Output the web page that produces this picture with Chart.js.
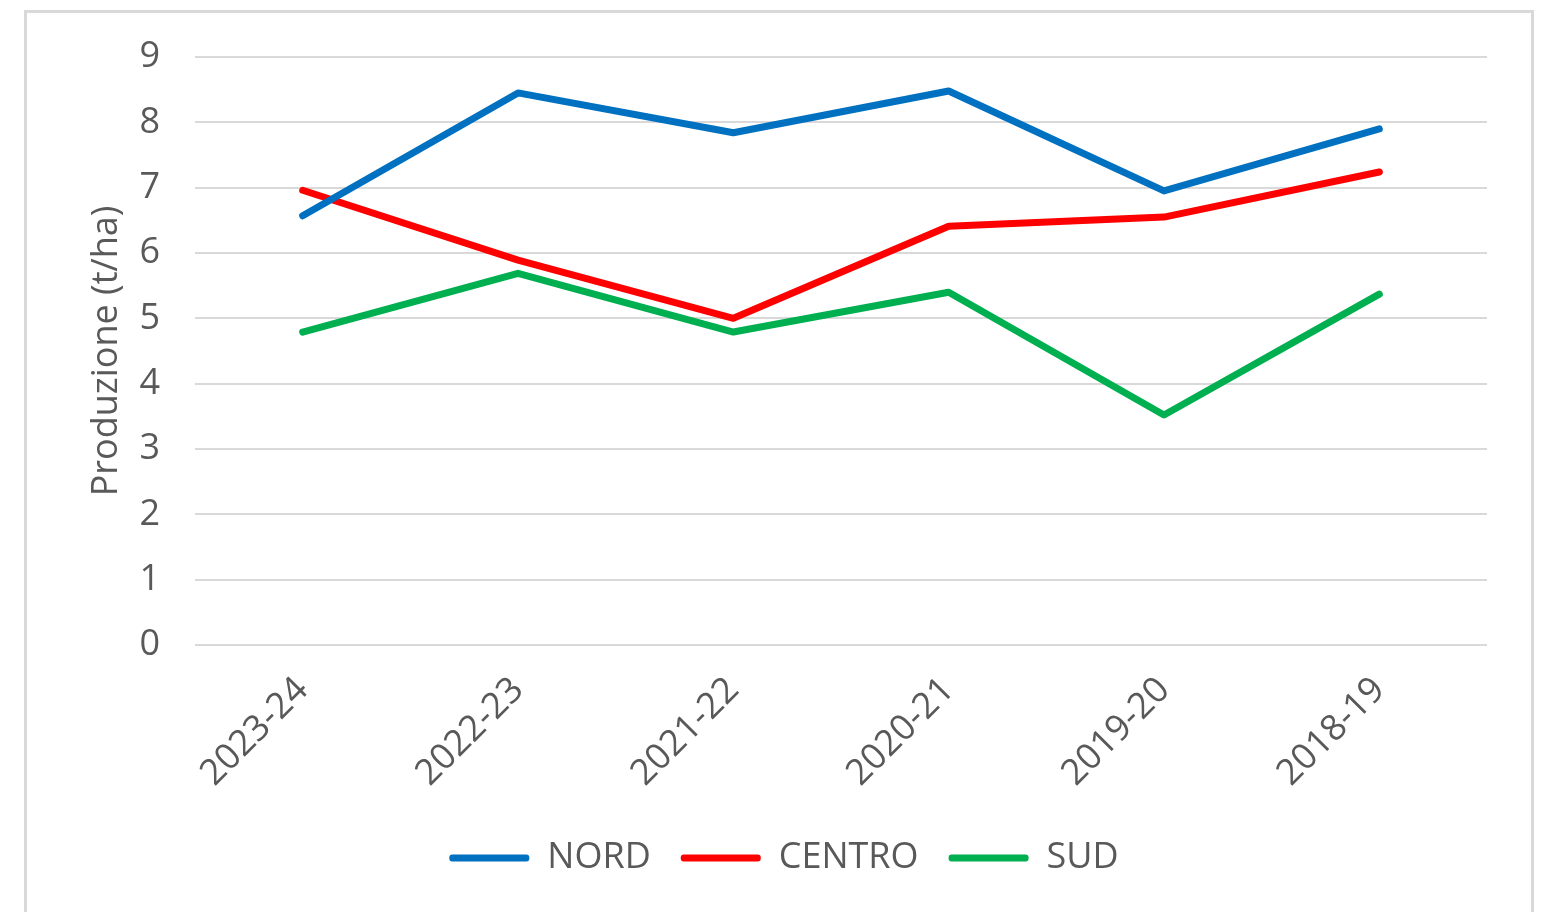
<!DOCTYPE html>
<html>
<head>
<meta charset="utf-8">
<script src="https://cdn.jsdelivr.net/npm/chart.js@4"></script>
<style>
  html, body { margin: 0; padding: 0; background: #fff; overflow: hidden; }
  .box {
    position: absolute;
    left: 24px; top: 10px;
    width: 1504px; height: 899px;
    border: 3px solid #d9d9d9;
  }
</style>
</head>
<body>
<div class="box"><canvas id="myChart"></canvas></div>
<script>
// Produzione (t/ha) per area
var annate = ["2023-24", "2022-23", "2021-22", "2020-21", "2019-20", "2018-19"];
var nord   = [6.57, 8.45, 7.84, 8.48, 6.95, 7.90];
var centro = [6.96, 5.89, 5.00, 6.41, 6.55, 7.24];
var sud    = [4.79, 5.69, 4.79, 5.40, 3.52, 5.37];

var grigio = "#595959";
var font = { family: "'Open Sans', sans-serif", size: 36 };

function serie(nome, valori, colore) {
  return {
    label: nome,
    data: valori,
    borderColor: colore,
    backgroundColor: colore,
    borderWidth: 7,
    borderCapStyle: "round",
    borderJoinStyle: "round",
    pointRadius: 0,
    tension: 0
  };
}

new Chart("myChart", {
  type: "line",
  data: {
    labels: annate,
    datasets: [
      serie("NORD", nord, "#0070c0"),
      serie("CENTRO", centro, "#ff0000"),
      serie("SUD", sud, "#00b050")
    ]
  },
  options: {
    responsive: true,
    maintainAspectRatio: false,
    animation: false,
    layout: { padding: { left: 54, right: 44, top: 44, bottom: 26 } },
    scales: {
      x: {
        offset: true,
        grid: { display: false },
        border: { display: false },
        ticks: { color: grigio, font: font, minRotation: 45, maxRotation: 45, padding: 16 },
        afterFit: function (s) { s.height = 165; }
      },
      y: {
        min: 0,
        max: 9,
        ticks: { stepSize: 1, color: grigio, font: font, padding: 35 },
        grid: { color: "#d9d9d9", lineWidth: 2, drawTicks: false },
        border: { display: false },
        title: { display: true, text: "Produzione (t/ha)", color: grigio, font: font },
        afterFit: function (s) {
          s.width = 114;
          // la padding dei tick non deve spostare l'area verso il basso
          s.paddingTop = 0;
          s.paddingBottom = 0;
        }
      }
    },
    plugins: {
      tooltip: { enabled: false },
      legend: {
        position: "bottom",
        labels: {
          color: grigio,
          font: font,
          boxWidth: 80,
          boxHeight: 7,
          padding: 30,
          useBorderRadius: true,
          borderRadius: 3,
          generateLabels: function (chart) {
            var items = Chart.defaults.plugins.legend.labels.generateLabels(chart);
            items.forEach(function (it) { it.lineWidth = 0; });
            return items;
          }
        }
      }
    }
  }
});
</script>
</body>
</html>
